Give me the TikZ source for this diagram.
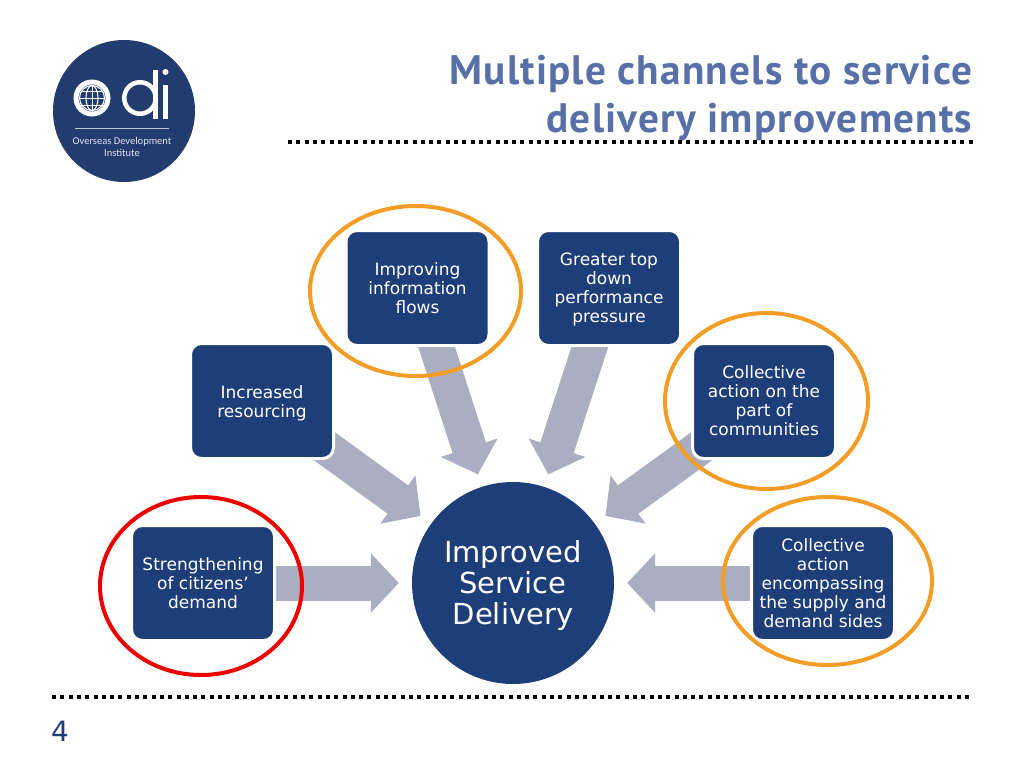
\documentclass[tikz,border=0pt]{standalone}
\usepackage{fontspec}
\setmainfont{DejaVu Sans}
\newfontfamily\titlefont{PT Sans}[LetterSpace=3]
\newfontfamily\logofont{Carlito}
\usetikzlibrary{arrows.meta,positioning,shapes.geometric,backgrounds}
\definecolor{odiblue}{RGB}{30,62,122}
\definecolor{logoblue}{RGB}{35,60,112}
\definecolor{titleblue}{RGB}{88,112,168}
\definecolor{flowgrey}{RGB}{169,174,192}
\definecolor{ringorange}{RGB}{243,156,38}
\definecolor{ringred}{RGB}{236,0,0}
\tikzset{
    chanbox/.style={draw=white, line width=3pt, fill=odiblue, rounded corners=11pt,
        minimum width=143pt, minimum height=115pt, inner sep=0pt, align=center,
        text=white, font=\fontsize{17}{19}\selectfont},
    hubnode/.style={circle, fill=odiblue, minimum size=202pt, inner sep=0pt, align=center,
        text=white, font=\fontsize{29}{31}\selectfont},
    flow/.style={line width=35pt, color=flowgrey, shorten >=13pt,
        -{Triangle[width=58pt,length=28pt]}},
    ring/.style={ellipse, draw, line width=4pt, inner sep=0pt},
    rule/.style={line width=4pt, dash pattern=on 4pt off 4.3pt},
}
\begin{document}
\begin{tikzpicture}[x=1pt,y=-1pt]
                \useasboundingbox (0,0) rectangle (1024,768);

                \fill[logoblue] (124,111) circle (71);
                \fill[white, even odd rule] (92,98) circle (18.5) (92,98) circle (13.5);
                \begin{scope}[white, line width=1pt]
                    \draw (92,98) circle (12.5);
                    \draw (92,98) ellipse [x radius=6, y radius=12.5];
                    \draw (79.5,98) -- (104.5,98);
                    \draw (92,85.5) -- (92,110.5);
                    \draw (81,91) -- (103,91);
                    \draw (81,105) -- (103,105);
                \end{scope}
                \draw[white, line width=4.5pt] (140,98) circle (15.75);
                \fill[white] (153,70) rectangle (158,119);
                \fill[white] (163,85) rectangle (168,119);
                \fill[white] (165.5,72) circle (3);
                \draw[white!70!logoblue, line width=1pt] (75,128) -- (169,128);
                \node [text=white!85!logoblue, align=center, font=\logofont\fontsize{10.5}{12.5}\selectfont]
                                        (logotext) at (122,147) {Overseas Development\\Institute};

                \node [anchor=north east, align=right, text=titleblue, inner sep=0pt,
                        font=\titlefont\bfseries\fontsize{41.2}{48}\selectfont]
                                        (title) at (972.5,55.5) {Multiple channels to service\\delivery improvements};
                \draw[rule] (288,142) -- (975,142);
                \draw[rule] (52,697) -- (970,697);
                \node [text=odiblue, font=\fontsize{28}{30}\selectfont] (pagenum) at (60,731) {4};

                \node [hubnode] (hub) at (513,583) {\rule{0pt}{27pt}Improved\\Service\\Delivery};
                \node [chanbox] (citizens) at (203,583) {Strengthening\\of citizens’\\demand};
                \node [chanbox] (resourcing) at (262,401) {\rule{0pt}{17pt}Increased\\resourcing};
                \node [chanbox] (information) at (417.5,288) {Improving\\information\\flows};
                \node [chanbox] (pressure) at (609,288) {\rule{0pt}{15pt}Greater top\\down\\performance\\pressure};
                \node [chanbox] (communities) at (764,401) {Collective\\action on the\\part of\\communities};
                \node [chanbox] (supply) at (823,583) {Collective\\action\\encompassing\\the supply and\\demand sides};

                \begin{scope}[on background layer]
                    \fill[white] (0,0) rectangle (1024,768);
                    \foreach \src in {citizens,resourcing,information,pressure,communities,supply}
                        \draw[flow] (\src.center) -- (hub);
                \end{scope}

                \node [ring, draw=ringred, minimum width=202pt, minimum height=178pt] (ringcitizens) at (201,586) {};
                \node [ring, draw=ringorange, minimum width=211pt, minimum height=170pt] (ringinformation) at (415.5,291) {};
                \node [ring, draw=ringorange, minimum width=203pt, minimum height=176pt] (ringcommunities) at (766.5,401) {};
                \node [ring, draw=ringorange, minimum width=209pt, minimum height=168pt] (ringsupply) at (827.5,581) {};
            \end{tikzpicture}
\end{document}
